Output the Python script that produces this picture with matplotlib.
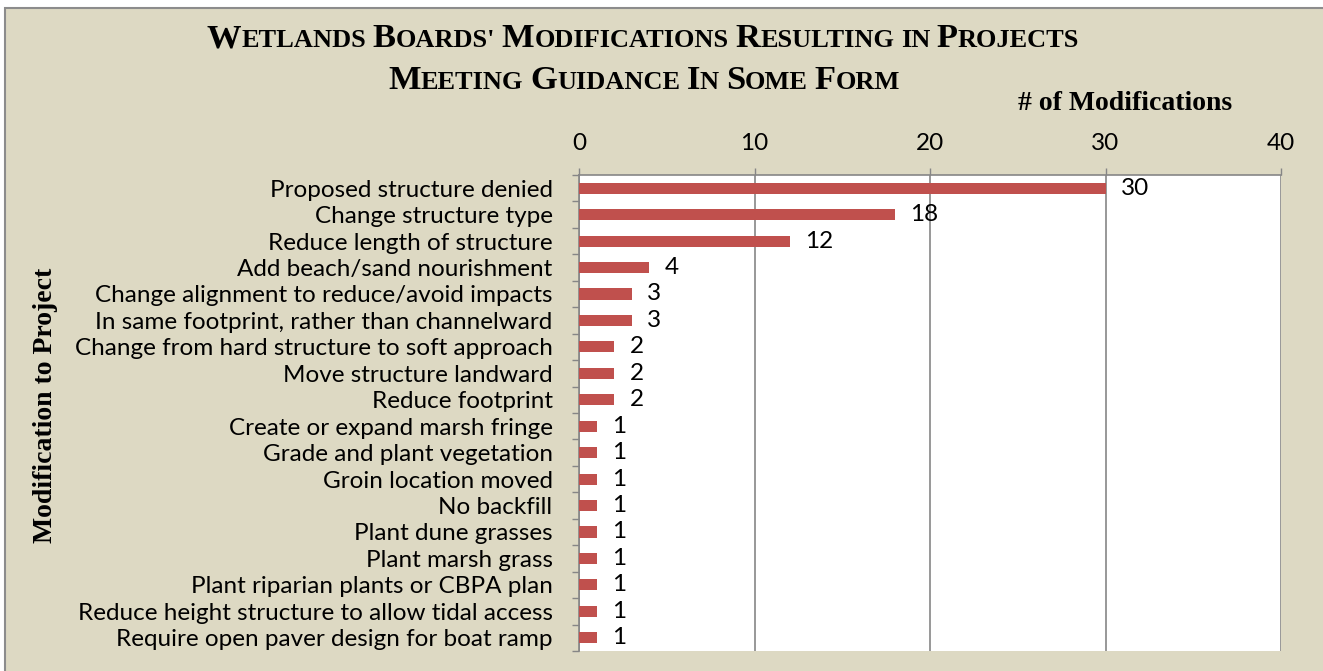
import matplotlib
matplotlib.use("Agg")
import matplotlib.pyplot as plt
from matplotlib.patches import Rectangle
from matplotlib.transforms import IdentityTransform
import numpy as np

categories = [
    "Proposed structure denied",
    "Change structure type",
    "Reduce length of structure",
    "Add beach/sand nourishment",
    "Change alignment to reduce/avoid impacts",
    "In same footprint, rather than channelward",
    "Change from hard structure to soft approach",
    "Move structure landward",
    "Reduce footprint",
    "Create or expand marsh fringe",
    "Grade and plant vegetation",
    "Groin location moved",
    "No backfill",
    "Plant dune grasses",
    "Plant marsh grass",
    "Plant riparian plants or CBPA plan",
    "Reduce height structure to allow tidal access",
    "Require open paver design for boat ramp",
]
values = [30, 18, 12, 4, 3, 3, 2, 2, 2, 1, 1, 1, 1, 1, 1, 1, 1, 1]
x_ticks = [0, 10, 20, 30, 40]

title_lines = ["Wetlands Boards' Modifications Resulting in Projects",
               "Meeting Guidance In Some Form"]
x_title = "# of Modifications"
y_title = "Modification to Project"

W, H = 1323, 671
DPI = 100
BG = "#DDD9C3"
BAR = "#C0504D"
GRID = "#868686"
SANS = ["Lato", "DejaVu Sans"]
SERIF = ["Liberation Serif", "DejaVu Serif"]
FS = 17.5

fig = plt.figure(figsize=(W / DPI, H / DPI), dpi=DPI)
fig.patch.set_facecolor("white")
fig.patches.append(Rectangle((5 / W, -0.05), 1.1, 1 - 8 / H + 0.05,
                             transform=fig.transFigure, facecolor=BG,
                             edgecolor="#8C8C8C", linewidth=1.5, zorder=-10))

L, R, T, B = 579, 1281, 175, 651
ax = fig.add_axes([L / W, 1 - B / H, (R - L) / W, (B - T) / H])
ax.set_facecolor("white")

y = np.arange(len(categories))
ax.barh(y, values, height=0.42, color=BAR, zorder=3)
ax.set_xlim(0, 40)
ax.set_ylim(len(categories) - 0.5, -0.5)
ax.set_xticks(x_ticks)
ax.xaxis.tick_top()
ax.tick_params(axis="x", which="major", length=5, width=1, color=GRID,
               direction="out", pad=10, labelsize=FS)
for lab in ax.get_xticklabels():
    lab.set_family(SANS)
ax.set_yticks(y)
ax.set_yticklabels(categories, family=SANS, fontsize=FS)
ax.set_yticks(np.arange(len(categories) + 1) - 0.5, minor=True)
ax.tick_params(axis="y", which="major", length=0, pad=19)
ax.tick_params(axis="y", which="minor", length=5, width=1, color=GRID,
               direction="out")
ax.xaxis.grid(True, color=GRID, linewidth=1.2, zorder=1)
ax.set_axisbelow(True)
for s in ["bottom", "right"]:
    ax.spines[s].set_visible(False)
for s in ["top", "left"]:
    ax.spines[s].set_color(GRID)
    ax.spines[s].set_linewidth(1.2)

for yi, v in zip(y, values):
    ax.annotate(str(v), xy=(v, yi), xytext=(11, 0), textcoords="offset points",
                va="center", ha="left", family=SANS, fontsize=FS, zorder=5)

# axis titles
fig.text(1125 / W, 1 - 104 / H, x_title, family=SERIF, weight="bold",
         fontsize=20, ha="center", va="center")
fig.text(46 / W, 1 - 405 / H, y_title, family=SERIF, weight="bold",
         fontsize=20, ha="center", va="center", rotation=90)

# small-caps title
renderer = fig.canvas.get_renderer()
BIG, SMALL = 24.8, 19


def width_of(s, size):
    t = fig.text(0, 0, s, family=SERIF, weight="bold", fontsize=size,
                 transform=IdentityTransform())
    w = t.get_window_extent(renderer).width
    t.remove()
    return w


space_w = width_of("a a", SMALL) - width_of("aa", SMALL)


def small_caps(line, cx, baseline_img):
    pieces = []
    words = line.split(" ")
    for i, wd in enumerate(words):
        if wd[0].isupper():
            pieces.append((wd[0], BIG))
            if len(wd) > 1:
                pieces.append((wd[1:].upper(), SMALL))
        else:
            pieces.append((wd.upper(), SMALL))
        if i < len(words) - 1:
            pieces.append((None, SMALL))
    widths = [space_w if p is None else width_of(p, s) for p, s in pieces]
    total = sum(widths)
    x = cx - total / 2
    yb = H - baseline_img
    for (p, s), w in zip(pieces, widths):
        if p is not None:
            fig.text(x, yb, p, family=SERIF, weight="bold", fontsize=s,
                     ha="left", va="baseline", transform=IdentityTransform())
        x += w


small_caps(title_lines[0], 643, 47)
small_caps(title_lines[1], 644, 89)

fig.savefig("out.png", dpi=DPI, facecolor=fig.get_facecolor())
